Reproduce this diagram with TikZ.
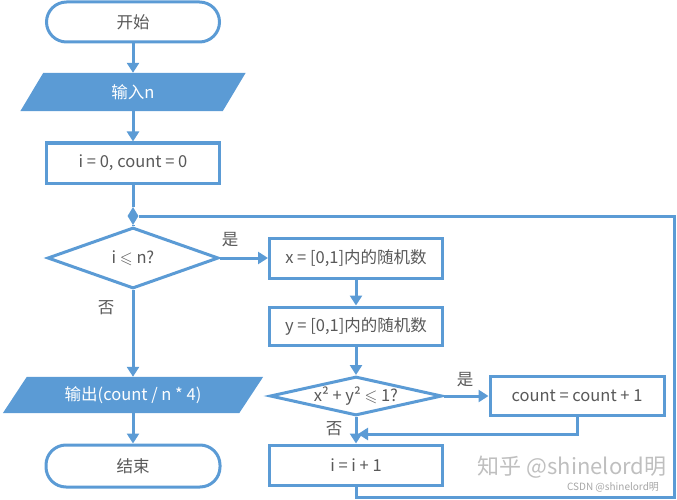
\documentclass[tikz,border=0pt]{standalone}
\usepackage{amssymb}
\usepackage{fontspec}
\setmainfont{Noto Sans CJK SC}
\usetikzlibrary{shapes.geometric,arrows.meta}
\definecolor{lineblue}{HTML}{5B9BD5}
\definecolor{txtgray}{HTML}{595959}
\tikzset{
  flow/.style={line width=3pt, draw=lineblue},
  arr/.style={flow, -{Triangle[width=12pt,length=10pt]}},
  box/.style={draw=lineblue, line width=3pt, fill=white, minimum width=173pt, minimum height=40pt, inner sep=0pt, text=txtgray, font=\fontsize{16.5}{19}\selectfont},
  term/.style={box, rounded corners=20pt},
  iobox/.style={inner sep=0pt, text=white, font=\fontsize{16.5}{19}\selectfont},
  decision/.style={diamond, draw=lineblue, line width=3pt, fill=white, inner sep=0pt, text=txtgray, font=\fontsize{16.5}{19}\selectfont},
  lab/.style={text=txtgray, font=\fontsize{16.5}{19}\selectfont},
}
\begin{document}
\begin{tikzpicture}[x=1pt,y=-1pt]
\useasboundingbox (0,0) rectangle (677,500);
% nodes
\node[term] (start) at (133,22) {开始};
\node[iobox, minimum width=202pt, minimum height=38pt] (input) at (133,92) {};
\fill[lineblue] ([xshift=-11.5pt]input.south west) -- ([xshift=-11.5pt]input.south east) -- ([xshift=11.5pt]input.north east) -- ([xshift=11.5pt]input.north west) -- cycle;
\node[iobox] at (input.center) {输入n};
\node[box] (init) at (133,163) {i = 0, count = 0};
\node[diamond, fill=lineblue, minimum width=11pt, minimum height=18pt, inner sep=0pt] (junc) at (133,216) {};
\node[decision, aspect=2.8, minimum width=171pt, minimum height=61pt] (dec1) at (133,258) {i $\leqslant$ n?};
\node[box] (xr) at (356,258) {x = [0,1]内的随机数};
\node[box, minimum height=38pt] (yr) at (356,326) {y = [0,1]内的随机数};
\node[decision, aspect=4.4, minimum width=172pt, minimum height=39pt] (dec2) at (356,396) {x² + y² $\leqslant$ 1?};
\node[box, minimum width=174pt, minimum height=39pt] (cnt) at (577,396) {count = count + 1};
\node[box] (inc) at (356,465) {i = i + 1};
\node[iobox, minimum width=236pt, minimum height=36pt] (output) at (133,395) {};
\fill[lineblue] ([xshift=-12pt]output.south west) -- ([xshift=-12pt]output.south east) -- ([xshift=12pt]output.north east) -- ([xshift=12pt]output.north west) -- cycle;
\node[iobox] at (output.center) {输出(count / n * 4)};
\node[term, minimum width=174pt, minimum height=42pt] (end) at (133,466) {结束};
% connectors
\draw[arr] (start) -- (input.north);
\draw[arr] (input.south) -- (init);
\draw[flow] (init) -- (junc.north);
\draw[flow] (junc.south) -- (dec1.north);
\draw[arr] (dec1.east) -- (xr.west);
\node[lab] at (230,240) {是};
\draw[arr] (dec1.south) -- (output.north);
\node[lab] at (106,308) {否};
\draw[arr] (output.south) -- (end);
\draw[arr] (xr) -- (yr);
\draw[arr] (yr) -- (dec2.north);
\draw[arr] (dec2.east) -- (cnt.west);
\node[lab] at (465,380) {是};
\draw[arr] (dec2.south) -- (inc);
\node[lab] at (334,429) {否};
\coordinate (merge) at (358,434);
\draw[arr] (cnt.south) |- (merge);
\coordinate (lb) at (674,497);
\draw[flow] (inc.south) |- (lb) |- (junc.east);
% watermark
\node[text=black!25, font=\fontsize{22}{24}\selectfont] (wm1) at (572,467) {知乎 @shinelord明};
\node[text=black!35, font=\fontsize{10}{12}\selectfont] (wm2) at (613,487) {CSDN @shinelord明};
\end{tikzpicture}
\end{document}
